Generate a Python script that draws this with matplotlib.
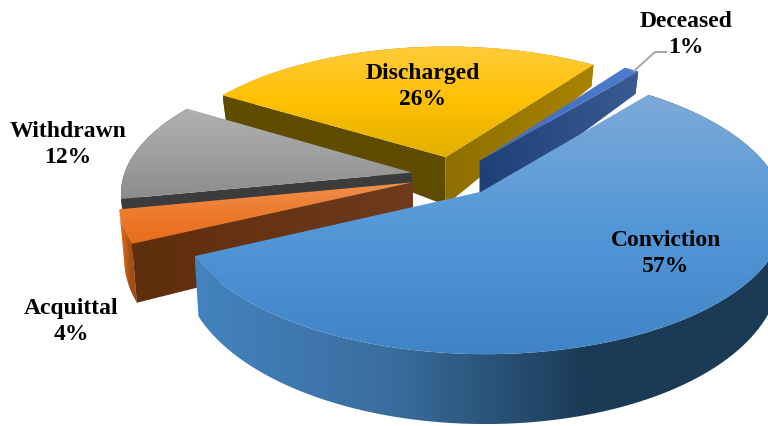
import numpy as np
import matplotlib
matplotlib.use("Agg")
import matplotlib.pyplot as plt
from matplotlib.path import Path
from matplotlib.patches import PathPatch
from matplotlib.colors import LinearSegmentedColormap

categories = ["Conviction", "Acquittal", "Withdrawn", "Discharged", "Deceased"]
values = [57, 4, 12, 26, 1]

START = 39.0
CX, CY, A, B, K = 454, 176, 288, 131, 0.14
EXPLODE = 0.15
RADIUS = [1.025, 1.0, 1.0, 1.0, 1.0]
DEPTH_Y = [-1.15, -0.55, 0.15, 0.7, 1.0]
DEPTH_T = [70, 60, 48, 25, 21]

top_cols = [["#7daad9", "#5598d8", "#3f84c6"],
            ["#f0914f", "#ee7a2c", "#e56c1c"],
            ["#b0b0b0", "#a0a0a0", "#8c8c8c"],
            ["#ffcb3c", "#ffc000", "#e2b000"],
            ["#4f7ccc", "#4472c4", "#4472c4"]]
rim_cols = [["#4483c0", "#3a6d9e", "#1a3a56", "#1a3a56"],
            ["#e8701f", "#c9601a", "#a34e14", "#a34e14"],
            ["#3c3c3c", "#3c3c3c", "#3c3c3c", "#3c3c3c"],
            ["#b08a10", "#a58000", "#9c7a00", "#9c7a00"],
            ["#3a5f9e", "#3a5f9e", "#3a5f9e", "#3a5f9e"]]
start_face = [["#2e5f8c", "#2e5f8c"], ["#5f2e0c", "#6f3a1f"], ["#3c3c3c", "#3c3c3c"],
              ["#5f4c00", "#5f4c00"], ["#3a5a92", "#1f3f78"]]
end_face = [["#2e5f8c", "#2e5f8c"], ["#3c3c3c", "#3c3c3c"], ["#666666", "#666666"],
            ["#8f7000", "#a88300"], ["#1f3f78", "#3a5a92"]]


def project(X, Y):
    s = 1 / (1 + K * Y)
    return CX + A * X * s, CY - B * Y * s


def lower(X, Y):
    x, y = project(X, Y)
    return CX + (x - CX) * 0.985, y + np.interp(Y, DEPTH_Y, DEPTH_T)


def grad(ax, verts, cols, vertical=True, z=1):
    verts = np.asarray(verts, dtype=float)
    x0, y0 = verts.min(axis=0)
    x1, y1 = verts.max(axis=0)
    cmap = LinearSegmentedColormap.from_list("g", cols)
    t = np.linspace(0, 1, 256)
    img = t[:, None] if vertical else t[None, :]
    im = ax.imshow(img, extent=(x0, x1, y1, y0), cmap=cmap, origin="upper",
                   aspect="auto", zorder=z, interpolation="bilinear")
    patch = PathPatch(Path(np.vstack([verts, verts[0]])), transform=ax.transData,
                      fc="none", ec="none")
    ax.add_patch(patch)
    im.set_clip_path(patch)


fig = plt.figure(figsize=(7.68, 4.26), dpi=100)
ax = fig.add_axes([0, 0, 1, 1])

sweeps = np.array(values) / sum(values) * 360
starts = START + np.concatenate([[0], np.cumsum(sweeps)[:-1]])

order = [3, 4, 2, 1, 0]
z = 1
for i in order:
    a0, a1 = starts[i], starts[i] + sweeps[i]
    mid = np.radians((a0 + a1) / 2)
    ox, oy = EXPLODE * np.sin(mid), EXPLODE * np.cos(mid)
    th = np.radians(np.linspace(a0, a1, 120))
    X, Y = ox + RADIUS[i] * np.sin(th), oy + RADIUS[i] * np.cos(th)
    ux, uy = project(X, Y)
    lx, ly = lower(X, Y)
    apx, apy = project(ox, oy)
    alx, aly = lower(np.array(ox), np.array(oy))
    top = np.column_stack([np.r_[apx, ux], np.r_[apy, uy]])
    rim = np.column_stack([np.r_[ux, lx[::-1]], np.r_[uy, ly[::-1]]])
    f0 = [(apx, apy), (ux[0], uy[0]), (lx[0], ly[0]), (alx, aly)]
    f1 = [(apx, apy), (ux[-1], uy[-1]), (lx[-1], ly[-1]), (alx, aly)]
    grad(ax, rim, rim_cols[i], vertical=False, z=z)
    z += 1
    # a cut face shows only when its outward normal points toward the viewer
    if np.cos(np.radians(a0 - 90)) < 0:
        grad(ax, f0, start_face[i], vertical=False, z=z)
        z += 1
    if np.cos(np.radians(a1 + 90)) < 0:
        grad(ax, f1, end_face[i], vertical=False, z=z)
        z += 1
    grad(ax, top, top_cols[i], vertical=True, z=z)
    z += 1

ax.plot([634, 655, 666], [71, 52, 52], color="#a6a6a6", lw=1.4, zorder=50)

labels = {"Conviction": (666, 253.5), "Acquittal": (71, 321.5), "Withdrawn": (68, 144.5),
          "Discharged": (423, 86.5), "Deceased": (686, 34.5)}
for name, v in zip(categories, values):
    x, y = labels[name]
    ax.text(x, y, f"{name}\n{v}%", ha="center", va="center", fontsize=17,
            fontweight="bold", family="Liberation Serif", color="black",
            linespacing=1.32, zorder=60)

ax.set_xlim(0, 768)
ax.set_ylim(426, 0)
ax.axis("off")
fig.savefig("out.png", dpi=100)
